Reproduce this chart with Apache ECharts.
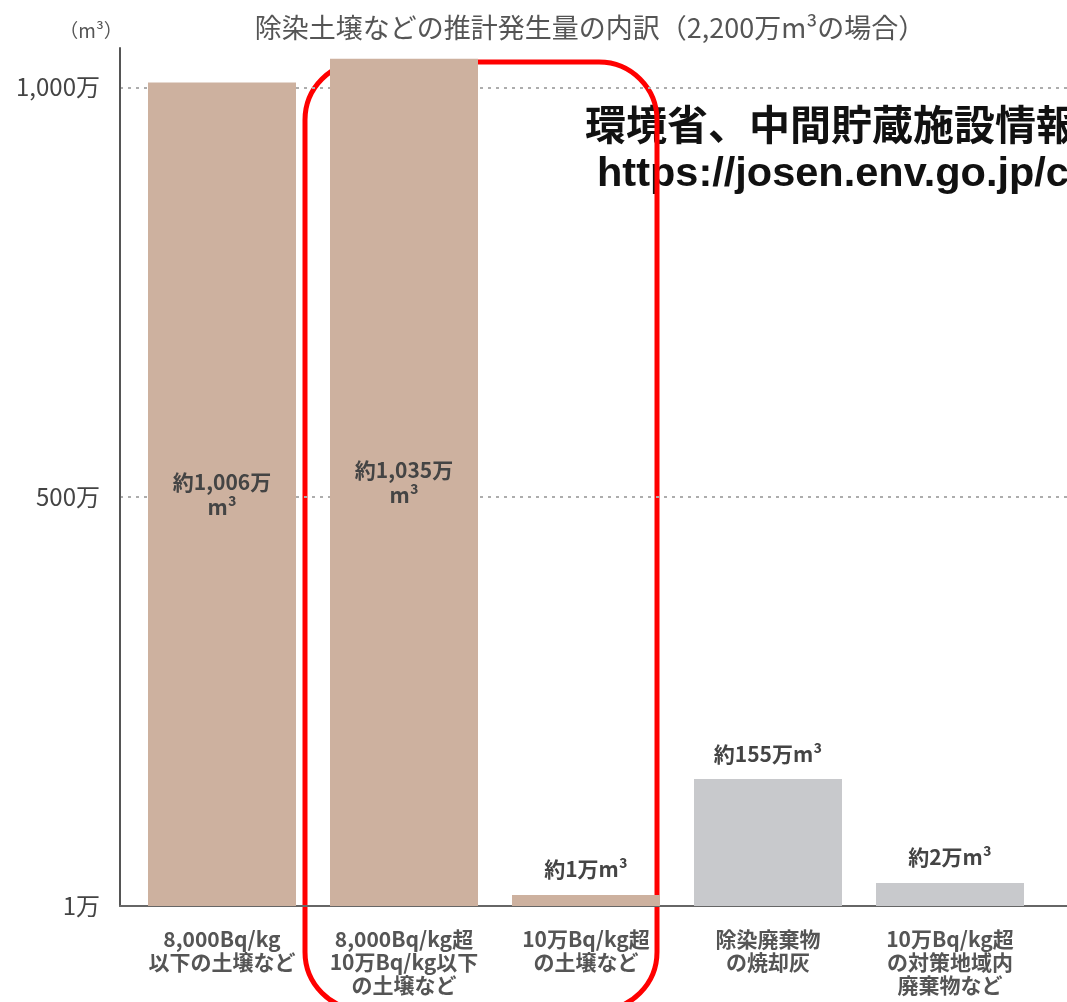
<!DOCTYPE html>
<html>
<head>
<meta charset="utf-8">
<script src="https://cdn.jsdelivr.net/npm/echarts@6/dist/echarts.min.js"></script>
<style>
  html, body { margin: 0; padding: 0; background: #fff; }
  #chart { width: 1067px; height: 1002px; }
</style>
</head>
<body>
<div id="chart"></div>
<script>
// Estimated volumes by category, in 万m³
const categories = [
  '8,000Bq/kg\n以下の土壌など',
  '8,000Bq/kg超\n10万Bq/kg以下\nの土壌など',
  '10万Bq/kg超\nの土壌など',
  '除染廃棄物\nの焼却灰',
  '10万Bq/kg超\nの対策地域内\n廃棄物など'
];
const soilValues  = [1006, 1035, 1, null, null];
const wasteValues = [null, null, null, 155, 2];
const tickValues  = [0, 500, 1000];
const tickLabels  = ['1万', '500万', '1,000万'];

const JP = '"Noto Sans CJK JP", "Noto Sans", sans-serif';
const Y_MAX = 1048;

function toItems(arr) {
  return arr.map(v => v == null ? '-' : {
    value: v,
    label: { position: v >= 500 ? 'inside' : 'top' }
  });
}
function valueText(p) {
  const s = '約' + Number(p.value).toLocaleString('en-US') + '万';
  return p.value >= 500 ? s + '\nm³' : s + 'm³';
}
const barLabel = {
  show: true,
  formatter: valueText,
  color: '#444',
  fontFamily: JP,
  fontWeight: 'bold',
  fontSize: 21,
  lineHeight: 25,
  distance: 13
};

const chart = echarts.init(document.getElementById('chart'), null, { renderer: 'canvas' });
chart.setOption({
  backgroundColor: '#fff',
  animation: false,
  grid: [
    // frame: axis lines, gridlines, tick labels
    { left: 120, right: 0, top: 48, bottom: 96 },
    // bars
    { left: 131, width: 910, top: 48, bottom: 96 }
  ],
  xAxis: [
    {
      gridIndex: 0, type: 'category', data: [''],
      axisLine: { show: true, lineStyle: { color: '#666', width: 2 } },
      axisTick: { show: false }, axisLabel: { show: false }
    },
    {
      gridIndex: 1, type: 'category', data: categories,
      axisLine: { show: false }, axisTick: { show: false },
      axisLabel: {
        color: '#555', fontFamily: JP, fontWeight: 'bold',
        fontSize: 21, lineHeight: 23, margin: 22, interval: 0
      }
    }
  ],
  yAxis: [
    {
      gridIndex: 0, type: 'value', min: 0, max: Y_MAX, interval: 500,
      axisLine: { show: true, lineStyle: { color: '#555', width: 2 } },
      axisTick: { show: false },
      axisLabel: {
        color: '#444', fontFamily: JP, fontSize: 24, margin: 20,
        formatter: v => {
          const i = tickValues.indexOf(v);
          return i >= 0 ? tickLabels[i] : '';
        }
      },
      splitLine: {
        show: true, showMinLine: false, showMaxLine: false,
        lineStyle: { color: '#adadad', width: 2, type: [3, 5] }
      }
    },
    {
      gridIndex: 1, type: 'value', min: 0, max: Y_MAX, show: false,
      splitLine: { show: false }
    }
  ],
  series: [
    {
      name: '土壌', type: 'bar', xAxisIndex: 1, yAxisIndex: 1,
      data: toItems(soilValues), barWidth: 148, barGap: '-100%',
      barMinHeight: 11,
      itemStyle: { color: '#cdb19f' },
      label: barLabel
    },
    {
      name: '廃棄物', type: 'bar', xAxisIndex: 1, yAxisIndex: 1,
      data: toItems(wasteValues), barWidth: 148, barGap: '-100%',
      barMinHeight: 23,
      itemStyle: { color: '#c8c9cc' },
      label: barLabel
    }
  ],
  graphic: [
    {
      type: 'text', x: 91, y: 31,
      style: {
        text: '（m³）', fill: '#555', font: '19px ' + JP,
        textAlign: 'center', textVerticalAlign: 'middle'
      }
    },
    {
      type: 'text', x: 590, y: 28,
      style: {
        text: '除染土壌などの推計発生量の内訳（2,200万m³の場合）',
        fill: '#555', font: '27px ' + JP,
        textAlign: 'center', textVerticalAlign: 'middle'
      }
    },
    {
      type: 'text', x: 585, y: 124,
      style: {
        text: '環境省、中間貯蔵施設情報サイト',
        fill: '#111', font: 'bold 41px ' + JP,
        textAlign: 'left', textVerticalAlign: 'middle'
      }
    },
    {
      type: 'text', x: 597, y: 175,
      style: {
        text: 'https://josen.env.go.jp/chukanchozou/',
        fill: '#111', font: 'bold 41.5px "Liberation Sans", Arial, sans-serif',
        textAlign: 'left', textVerticalAlign: 'middle'
      }
    },
    {
      type: 'rect',
      shape: { x: 305, y: 62, width: 352, height: 948, r: 58 },
      style: { fill: 'none', stroke: '#ff0000', lineWidth: 5 }
    }
  ]
});
</script>
</body>
</html>
